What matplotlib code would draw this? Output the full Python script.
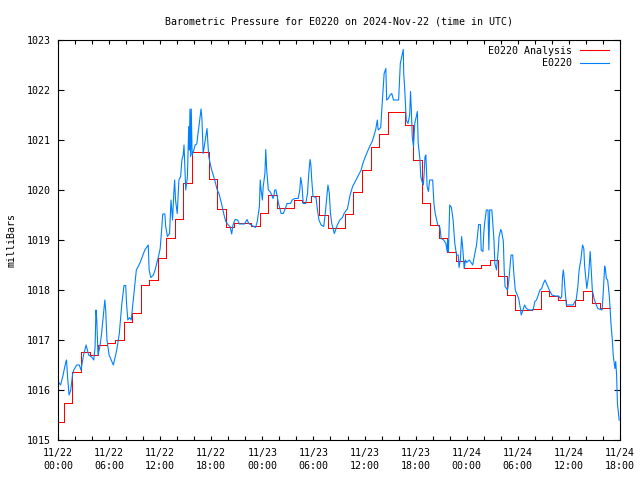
"""
Barometric pressure, station E0220, 2024-Nov-22 .. 11/24 (gnuplot look)
"""

import numpy as np
import matplotlib
matplotlib.use('Agg')
import matplotlib.pyplot as plt
from matplotlib.ticker import MultipleLocator

# hourly analysis values (step starts at hour k - 0.3)
analysis_start = np.arange(65) - 0.3
analysis_mb = [
    1015.37, 1015.75, 1016.37, 1016.77, 1016.70, 1016.90, 1016.95, 1017.00,
    1017.37, 1017.55, 1018.10, 1018.21, 1018.65, 1019.05, 1019.43, 1020.15,
    1020.77, 1020.77, 1020.23, 1019.63, 1019.27, 1019.35, 1019.35, 1019.28,
    1019.55, 1019.91, 1019.65, 1019.65, 1019.80, 1019.77, 1019.88, 1019.51,
    1019.25, 1019.25, 1019.52, 1019.97, 1020.41, 1020.86, 1021.12, 1021.57,
    1021.57, 1021.31, 1020.60, 1019.75, 1019.30, 1019.05, 1018.77, 1018.58,
    1018.45, 1018.45, 1018.50, 1018.61, 1018.28, 1017.91, 1017.60, 1017.60,
    1017.63, 1017.98, 1017.88, 1017.81, 1017.68, 1017.80, 1017.98, 1017.75,
    1017.65,
]
analysis_end = 64.8

# station observations, hours since 11/22 00:00 UTC
obs_hours = [
    0.0, 0.3, 0.6, 0.9, 1.0, 1.15, 1.3, 1.5, 1.7, 1.85, 2.2, 2.5, 2.7, 3.0, 3.3,
    3.6, 4.0, 4.2, 4.35, 4.46, 4.55, 4.7, 4.9, 5.1, 5.5, 5.6, 5.75, 6.0, 6.5,
    6.9, 7.2, 7.5, 7.75, 7.95, 8.05, 8.2, 8.4, 8.6, 8.8, 9.2, 9.6, 10.2, 10.6,
    10.7, 10.9, 11.2, 11.4, 11.8, 12.0, 12.2, 12.3, 12.55, 12.65, 12.85, 13.1,
    13.27, 13.45, 13.6, 13.7, 13.8, 14.0, 14.2, 14.4, 14.55, 14.7, 14.8, 15.0,
    15.2, 15.35, 15.42, 15.5, 15.58, 15.65, 15.75, 15.95, 16.1, 16.3, 16.4,
    16.8, 16.9, 17.05, 17.2, 17.5, 17.7, 18.0, 18.4, 18.7, 18.9, 19.2, 19.5,
    19.7, 20.0, 20.2, 20.3, 20.4, 20.55, 20.8, 21.1, 21.3, 21.9, 22.2, 22.4,
    22.7, 23.2, 23.4, 23.65, 23.75, 23.85, 24.0, 24.1, 24.3, 24.4, 24.5, 24.7,
    24.9, 25.1, 25.25, 25.35, 25.45, 25.6, 25.75, 25.9, 26.2, 26.45, 26.7,
    26.9, 27.3, 27.5, 27.8, 28.2, 28.4, 28.5, 28.65, 28.8, 29.1, 29.3, 29.45,
    29.6, 29.7, 29.8, 29.95, 30.3, 30.45, 30.65, 30.9, 31.2, 31.4, 31.7, 31.85,
    32.0, 32.15, 32.45, 32.6, 32.8, 33.1, 33.4, 33.6, 34.0, 34.3, 34.6, 34.9,
    35.2, 35.6, 35.8, 36.1, 36.6, 36.9, 37.3, 37.5, 37.6, 37.9, 38.05, 38.3,
    38.5, 38.6, 38.8, 39.0, 39.2, 39.4, 40.0, 40.2, 40.55, 40.6, 40.7, 40.9,
    41.1, 41.3, 41.4, 41.5, 41.6, 41.75, 41.9, 42.2, 42.3, 42.5, 42.6, 42.75,
    42.9, 43.0, 43.1, 43.2, 43.35, 43.5, 43.65, 44.0, 44.15, 44.3, 44.6, 44.85,
    45.0, 45.3, 45.55, 45.7, 45.75, 45.85, 46.0, 46.2, 46.4, 46.6, 46.8, 47.0,
    47.1, 47.25, 47.4, 47.55, 47.7, 47.85, 48.0, 48.3, 48.5, 48.7, 49.15, 49.4,
    49.6, 49.7, 49.9, 50.0, 50.1, 50.3, 50.5, 50.6, 50.7, 50.95, 51.2, 51.3,
    51.5, 51.7, 51.8, 52.0, 52.1, 52.3, 52.4, 52.5, 52.8, 52.95, 53.2, 53.4,
    53.5, 53.7, 54.1, 54.3, 54.4, 54.6, 54.8, 55.0, 55.3, 55.8, 56.0, 56.2,
    56.4, 56.6, 56.8, 57.0, 57.2, 57.45, 57.7, 58.0, 58.4, 58.8, 59.0, 59.15,
    59.25, 59.35, 59.45, 59.55, 59.7, 60.5, 60.7, 60.85, 61.05, 61.2, 61.4,
    61.6, 61.75, 61.85, 62.1, 62.3, 62.5, 62.6, 62.75, 62.95, 63.15, 63.4,
    63.9, 64.05, 64.2, 64.3, 64.4, 64.55, 64.75, 64.95, 65.1, 65.2, 65.4, 65.5,
    65.6, 65.7, 65.9,
]
obs_mb = [
    1016.17, 1016.10, 1016.30, 1016.55, 1016.60, 1016.20, 1015.90, 1016.00,
    1016.30, 1016.40, 1016.50, 1016.50, 1016.40, 1016.70, 1016.90, 1016.70,
    1016.65, 1016.60, 1016.85, 1017.60, 1017.40, 1016.70, 1016.85, 1017.10,
    1017.80, 1017.60, 1017.00, 1016.70, 1016.50, 1016.80, 1017.13, 1017.73,
    1018.09, 1018.09, 1017.73, 1017.40, 1017.45, 1017.40, 1017.73, 1018.40,
    1018.53, 1018.80, 1018.90, 1018.40, 1018.25, 1018.30, 1018.40, 1018.67,
    1018.83, 1019.27, 1019.52, 1019.52, 1019.27, 1019.07, 1019.13, 1019.80,
    1019.40, 1019.93, 1020.20, 1019.80, 1019.53, 1020.20, 1020.27, 1020.60,
    1020.70, 1020.90, 1020.00, 1020.27, 1021.27, 1020.80, 1021.62, 1020.67,
    1021.62, 1020.70, 1020.80, 1020.90, 1020.92, 1021.07, 1021.62, 1021.43,
    1020.73, 1020.90, 1021.23, 1020.67, 1020.43, 1020.20, 1020.00, 1019.93,
    1019.73, 1019.50, 1019.37, 1019.30, 1019.27, 1019.20, 1019.12, 1019.30,
    1019.41, 1019.40, 1019.32, 1019.32, 1019.41, 1019.33, 1019.30, 1019.25,
    1019.37, 1019.67, 1020.20, 1020.00, 1019.80, 1020.07, 1020.33, 1020.81,
    1020.43, 1020.00, 1019.97, 1019.90, 1019.83, 1019.88, 1020.00, 1020.00,
    1019.87, 1019.73, 1019.53, 1019.53, 1019.63, 1019.73, 1019.73, 1019.80,
    1019.83, 1019.83, 1020.00, 1020.25, 1020.10, 1019.73, 1019.73, 1019.93,
    1020.33, 1020.61, 1020.50, 1020.20, 1019.87, 1019.85, 1019.63, 1019.40,
    1019.30, 1019.27, 1019.55, 1020.10, 1019.95, 1019.53, 1019.33, 1019.13,
    1019.20, 1019.30, 1019.40, 1019.45, 1019.53, 1019.63, 1019.90, 1020.07,
    1020.17, 1020.27, 1020.40, 1020.53, 1020.67, 1020.87, 1020.97, 1021.20,
    1021.40, 1021.20, 1021.25, 1021.67, 1022.33, 1022.43, 1021.80, 1021.83,
    1021.90, 1021.93, 1021.80, 1021.80, 1022.53, 1022.81, 1022.33, 1022.07,
    1021.40, 1021.33, 1021.50, 1021.97, 1021.60, 1021.07, 1020.87, 1021.33,
    1021.57, 1020.93, 1020.63, 1020.27, 1020.17, 1020.10, 1020.33, 1020.67,
    1020.70, 1020.07, 1019.97, 1020.20, 1020.20, 1019.73, 1019.53, 1019.30,
    1019.25, 1019.03, 1019.00, 1018.93, 1018.77, 1019.00, 1018.75, 1019.70,
    1019.65, 1019.40, 1018.93, 1018.70, 1018.70, 1018.45, 1018.60, 1019.07,
    1018.80, 1018.43, 1018.60, 1018.55, 1018.60, 1018.55, 1018.50, 1018.90,
    1019.31, 1019.31, 1018.80, 1018.77, 1019.13, 1019.33, 1019.60, 1019.60,
    1018.80, 1019.60, 1019.60, 1019.00, 1018.53, 1018.40, 1018.80, 1019.07,
    1019.21, 1019.17, 1018.97, 1018.40, 1018.07, 1018.00, 1018.20, 1018.70,
    1018.70, 1018.40, 1018.00, 1017.83, 1017.63, 1017.50, 1017.60, 1017.70,
    1017.63, 1017.60, 1017.60, 1017.77, 1017.80, 1017.90, 1018.00, 1018.03,
    1018.13, 1018.20, 1018.10, 1018.00, 1017.90, 1017.88, 1017.88, 1017.83,
    1017.87, 1018.27, 1018.40, 1018.23, 1018.00, 1017.70, 1017.70, 1017.77,
    1017.80, 1018.07, 1018.40, 1018.60, 1018.90, 1018.83, 1018.47, 1018.03,
    1018.27, 1018.77, 1018.47, 1018.00, 1017.83, 1017.73, 1017.63, 1017.60,
    1018.00, 1018.48, 1018.40, 1018.23, 1018.20, 1017.87, 1017.30, 1017.00,
    1016.70, 1016.43, 1016.57, 1016.30, 1015.73, 1015.40,
]

tick_hours = [0, 6, 12, 18, 24, 30, 36, 42, 48, 54, 60, 66]
tick_labels = [
    '11/22\n00:00', '11/22\n06:00', '11/22\n12:00', '11/22\n18:00',
    '11/23\n00:00', '11/23\n06:00', '11/23\n12:00', '11/23\n18:00',
    '11/24\n00:00', '11/24\n06:00', '11/24\n12:00', '11/24\n18:00',
]

RED = '#ff0000'
BLUE = '#0080ff'

plt.rcParams['font.family'] = ['DejaVu Sans Mono']
plt.rcParams['font.size'] = 7.2

fig = plt.figure(figsize=(6.4, 4.8), dpi=100)
ax = fig.add_axes([58 / 640, 40 / 480, 562 / 640, 400 / 480])

# red analysis drawn as steps, blue obs on top
sx = list(analysis_start) + [analysis_end]
sy = analysis_mb + [analysis_mb[-1]]
ax.step(sx, sy, where='post', color=RED, lw=0.7, antialiased=False,
        label='E0220 Analysis')
ax.plot(obs_hours, obs_mb, color=BLUE, lw=0.8, antialiased=True,
        label='E0220')

ax.set_xlim(0, 66)
ax.set_ylim(1015, 1023)
ax.set_xticks(tick_hours)
ax.set_xticklabels(tick_labels, linespacing=1.3)
ax.xaxis.set_minor_locator(MultipleLocator(2))
ax.yaxis.set_major_locator(MultipleLocator(1))
ax.yaxis.set_major_formatter(matplotlib.ticker.FormatStrFormatter('%d'))

ax.tick_params(axis='both', which='both', direction='in', top=True, right=True,
               width=0.8, color='black')
ax.tick_params(axis='x', which='major', length=3, pad=6)
ax.tick_params(axis='x', which='minor', length=3)
ax.tick_params(axis='y', which='major', length=4, pad=5)
for sp in ax.spines.values():
    sp.set_linewidth(0.8)

ax.set_title('Barometric Pressure for E0220 on 2024-Nov-22 (time in UTC)',
             fontsize=7.2, pad=11)
ax.set_ylabel('milliBars')
ax.yaxis.set_label_coords(-46 / 562, 0.5)
ax.yaxis.label.set_va('center')

leg = ax.legend(loc='upper right', bbox_to_anchor=(1 - 5 / 562, 1),
                frameon=False, markerfirst=False,
                handlelength=2.9, handletextpad=0.8, labelspacing=0.25,
                borderaxespad=0.2, borderpad=0.4)
for h in leg.get_lines():
    h.set_linewidth(0.8)

fig.savefig('out.png', dpi=100)
